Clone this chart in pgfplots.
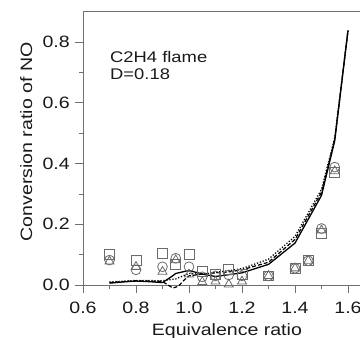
\documentclass[border=0pt]{standalone}
\usepackage{fontspec}
\setmainfont{Liberation Sans}[FakeStretch=1.19]
\usepackage{pgfplots}
\pgfplotsset{compat=1.18}
\definecolor{axgray}{HTML}{707070}
\definecolor{mkgray}{HTML}{6A6A6A}
\begin{document}
\begin{tikzpicture}
\begin{axis}[
  at={(83bp,53bp)}, anchor=south west,
  x=265bp, y=303.75bp,
  xmin=0.6, xmax=1.7, ymin=0, ymax=0.9,
  clip=false,
  axis line style={draw=axgray, line width=0.7bp},
  tick style={draw=axgray, line width=0.7bp},
  tick align=outside, tick pos=left,
  major tick length=8bp, minor tick length=4bp,
  xtick={0.6,0.8,1.0,1.2,1.4,1.6},
  minor xtick={0.7,0.9,1.1,1.3,1.5},
  ytick={0,0.2,0.4,0.6,0.8},
  minor ytick={0.1,0.3,0.5,0.7},
  /pgf/number format/assume math mode=true,
  /pgf/number format/fixed, /pgf/number format/fixed zerofill,
  /pgf/number format/precision=1,
  ticklabel style={font=\fontsize{16.5}{18}\selectfont, text=black!90},
  xticklabel style={anchor=north, inner sep=0pt, yshift=-9bp},
  yticklabel style={anchor=east, inner sep=0pt, xshift=-5bp},
  xlabel={Equivalence ratio},
  ylabel={Conversion ratio of NO},
  label style={font=\fontsize{16.5}{18}\selectfont, inner sep=0pt, text=black!90},
  xlabel style={at={([yshift=-50.5bp]axis cs:1.143,0)}, anchor=base},
  ylabel style={at={([xshift=-51bp]axis cs:0.6,0.471)}, anchor=base},
]
% model lines
\addplot[black, line width=1.3bp] coordinates {
(0.70,0.006) (0.75,0.010) (0.80,0.013) (0.85,0.011) (0.90,0.008)
(0.93,0.025) (0.95,0.038) (1.00,0.048) (1.05,0.036) (1.10,0.028)
(1.15,0.034) (1.20,0.040) (1.30,0.068) (1.40,0.138) (1.50,0.295)
(1.55,0.475) (1.60,0.838)};
\addplot[black, line width=1.2bp, dash pattern=on 4bp off 2bp] coordinates {
(0.70,0.008) (0.80,0.014) (0.90,0.012) (0.92,0.000) (0.94,-0.010)
(0.96,-0.004) (0.98,0.015) (1.00,0.030) (1.05,0.036) (1.10,0.040)
(1.15,0.043) (1.20,0.050) (1.30,0.075) (1.40,0.150) (1.50,0.305)
(1.55,0.480) (1.60,0.838)};
\addplot[black, line width=1.3bp, dash pattern=on 1.2bp off 1.8bp] coordinates {
(0.70,0.010) (0.80,0.015) (0.90,0.014) (0.95,0.020) (1.00,0.038)
(1.05,0.036) (1.10,0.042) (1.15,0.047) (1.20,0.054) (1.30,0.085)
(1.40,0.160) (1.50,0.315) (1.55,0.485) (1.60,0.838)};
% measurements
\addplot[only marks, mark=square, mark size=4.9bp, mkgray, mark options={line width=0.8bp}] coordinates {
(0.70,0.102) (0.80,0.082) (0.90,0.104) (0.95,0.068) (1.00,0.102)
(1.05,0.044) (1.10,0.036) (1.15,0.052) (1.20,0.035) (1.30,0.030)
(1.40,0.055) (1.45,0.080) (1.50,0.170) (1.55,0.370)};
\addplot[only marks, mark=o, mark size=4.9bp, mkgray, mark options={line width=0.8bp}] coordinates {
(0.70,0.082) (0.80,0.050) (0.90,0.060) (0.95,0.088) (1.00,0.060)
(1.05,0.027) (1.10,0.030) (1.15,0.033) (1.20,0.030) (1.30,0.030)
(1.40,0.055) (1.45,0.080) (1.50,0.186) (1.55,0.388)};
\addplot[only marks, mark=triangle, mark size=5.2bp, mkgray, mark options={line width=0.8bp}] coordinates {
(0.70,0.078) (0.80,0.060) (0.90,0.044) (0.95,0.082) (1.00,0.035)
(1.05,0.010) (1.10,0.012) (1.15,0.002) (1.20,0.012) (1.30,0.030)
(1.40,0.055) (1.45,0.080) (1.50,0.180) (1.55,0.375)};
\node[anchor=base west, inner sep=0pt, text=black!90, font=\fontsize{15.5}{18}\selectfont] at (axis cs:0.702,0.734) {C2H4 flame};
\node[anchor=base west, inner sep=0pt, text=black!90, font=\fontsize{15.5}{18}\selectfont] at (axis cs:0.702,0.675) {D=0.18};
\end{axis}
\pgfresetboundingbox
\path[use as bounding box] (0,0) rectangle (360bp,338bp);
\end{tikzpicture}
\end{document}
